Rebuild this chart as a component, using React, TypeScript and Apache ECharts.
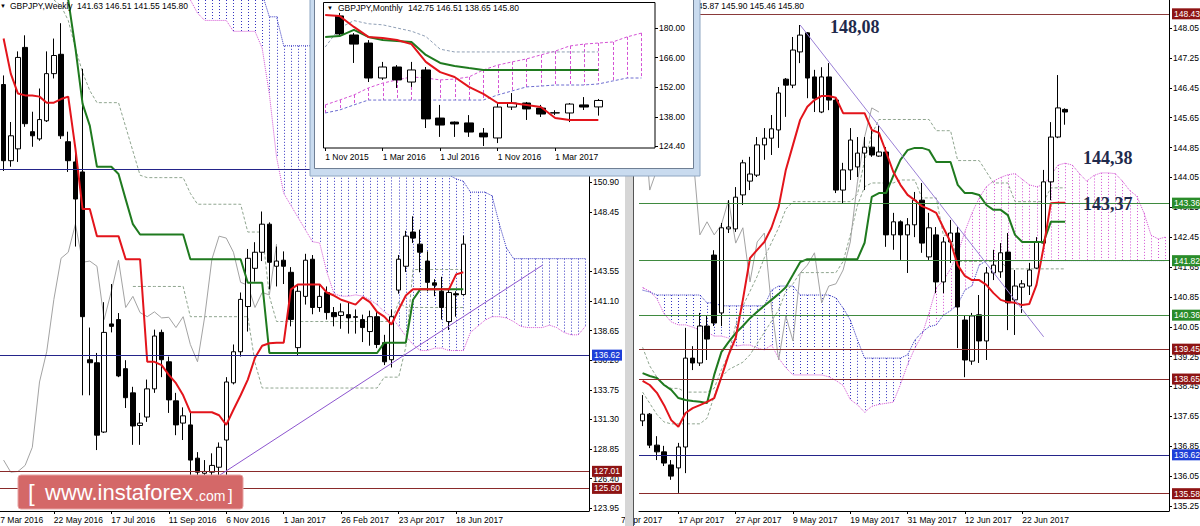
import React, { useEffect, useRef } from 'react';
import * as echarts from 'echarts';

const FONT = "'Liberation Sans', Arial, sans-serif";
const FS = 8.5;

// ================= Weekly panel (left) =================
// [open, high, low, close], weekly candles from 10 Apr 2016 to 25 Jun 2017
const weeklyOHLC = [
  [159.0, 159.75, 151.85, 152.7], [152.7, 155.9, 152.2, 154.76], [153.68, 161.74, 152.6, 161.24],
  [162.07, 163.07, 155.5, 155.76], [155.1, 156.75, 153.85, 154.76], [154.5, 158.67, 154.35, 156.1],
  [156.0, 161.74, 155.9, 159.9], [159.9, 162.8, 159.5, 161.4], [161.5, 164.07, 154.5, 154.76],
  [154.27, 155.1, 151.77, 152.7], [152.6, 153.4, 145.6, 149.53], [151.77, 160.3, 133.3, 139.8],
  [136.24, 138.9, 133.3, 135.99], [135.99, 136.8, 128.77, 130.0], [130.26, 141.0, 130.18, 138.5],
  [139.2, 142.5, 138.5, 139.0], [139.56, 140.1, 134.8, 134.9], [135.5, 136.2, 132.25, 133.1],
  [133.5, 134.0, 129.2, 130.76], [130.8, 131.84, 129.2, 131.0], [131.5, 134.6, 131.1, 133.83],
  [133.83, 138.73, 133.5, 138.2], [138.5, 138.73, 134.8, 136.24], [136.07, 136.5, 131.84, 132.92],
  [132.84, 133.5, 130.0, 130.85], [131.0, 132.3, 129.6, 131.6], [130.85, 131.84, 125.45, 127.94],
  [128.1, 128.6, 125.5, 126.94], [126.85, 127.94, 126.1, 127.0], [126.94, 128.5, 126.3, 127.5],
  [127.35, 129.4, 126.5, 129.0], [129.6, 134.8, 126.5, 134.4], [134.33, 137.5, 134.2, 136.9],
  [136.9, 141.8, 136.5, 141.23], [140.64, 145.4, 138.57, 144.63], [143.8, 145.96, 142.7, 145.13],
  [145.13, 148.5, 144.4, 147.45], [147.45, 147.6, 142.06, 144.3], [143.97, 145.6, 142.3, 144.4],
  [144.47, 145.2, 142.5, 143.97], [143.47, 143.9, 139.0, 139.56], [137.24, 142.5, 136.6, 141.9],
  [141.48, 145.0, 140.8, 144.47], [144.55, 144.9, 140.0, 140.56], [140.56, 142.5, 140.2, 141.48],
  [141.8, 142.3, 139.56, 140.14], [140.14, 140.6, 139.0, 139.8], [139.9, 140.9, 138.8, 140.2],
  [139.97, 141.0, 138.4, 139.7], [139.8, 140.4, 138.4, 139.75], [139.56, 139.97, 137.7, 138.9],
  [138.57, 140.3, 137.4, 139.8], [139.8, 140.3, 137.2, 137.5], [137.65, 138.3, 135.8, 136.07],
  [136.24, 140.4, 135.6, 139.8], [142.0, 144.9, 141.7, 144.55], [143.97, 146.9, 143.5, 146.46],
  [146.8, 148.1, 145.9, 146.3], [145.8, 147.0, 143.47, 145.13], [144.4, 145.2, 141.9, 142.64],
  [142.6, 142.9, 141.5, 142.4], [141.9, 143.1, 139.56, 140.56], [139.4, 142.0, 138.7, 141.8],
  [141.7, 141.9, 139.8, 141.6], [141.63, 146.51, 141.55, 145.8],
];
const weeklyTenkan = [
  162.8, 159.9, 158.25, 158.1, 158.1, 158.0, 157.5,
  157.5, 157.8, 158.0, 153.7, 148.7, 148.7, 146.46, 146.46, 146.46, 146.46,
  144.55, 144.55, 144.55, 136.07, 136.07, 135.8, 134.99, 134.3, 133.3, 131.9,
  131.9, 131.9, 131.9, 131.65, 130.85, 132.1, 133.3, 134.6, 136.4, 137.4,
  137.6, 137.65, 137.65, 142.06, 142.47, 142.47, 142.47, 142.47, 141.8, 141.55,
  141.2, 141.0, 140.8, 141.4, 141.0, 140.2, 139.8, 139.15, 140.4, 141.55,
  142.06, 142.06, 142.06, 142.06, 142.06, 142.06, 143.3, 143.47,
];
const weeklyKijun = [
  168, 168, 168, 168, 168, 168, 168, 168, 168, 166, 162, 157.4, 155.6, 152.2, 152.2, 152.2, 151.6,
  149.5, 147.45, 146.6, 146.6, 146.6, 146.6, 146.6, 146.6, 146.6,
  144.55, 144.55, 144.55, 144.55, 144.55, 144.55, 144.55, 144.55, 142.6, 142.6, 142.6,
  136.8, 136.8, 136.8, 136.8, 136.8, 136.8, 136.8, 136.8, 136.8, 136.8, 136.8, 136.8, 136.8, 136.8, 136.8, 136.8,
  137.65, 137.65, 137.65, 137.65, 141.2, 142.06, 142.06, 142.06, 142.06, 142.06, 142.06, 142.06,
];
const N = null;
// Senkou spans (already shifted 26 weeks ahead), slots from 10 Apr 2016 to 5 Nov 2017
const weeklySpanA = [
  N, N, N, N, N, N, N, N, N, N, N, N, N, N, N, N, N, N, N, N, N, N, N, N, N, N,
  166.0, 164.9, 164.3, 164.3, 164.3, 164.3, 163.4, 163.4, 163.4, 163.4,
  162.0, 158.2, 153.0, 150.0, 149.0, 148.0, 147.0, 146.0, 145.9, 143.5,
  141.7, 141.5, 141.5, 141.6, 141.5, 141.2, 140.8, 140.2, 139.8, 139.0,
  138.2, 137.5, 137.0, 137.0, 137.2, 137.2, 137.0, 137.0, 137.0, 138.5,
  139.0, 139.5, 139.8, 139.8, 139.7, 139.4, 139.0, 138.9, 138.9, 138.9,
  139.1, 138.9, 138.5, 138.3, 138.3, 139.0,
];
const weeklySpanB = [
  N, N, N, N, N, N, N, N, N, N, N, N, N, N, N, N, N, N, N, N, N, N, N, N, N, N,
  170, 170, 170, 170, 170, 170, 170, 170, 170, 170,
  166.5, 164.6, 164.6, 162.2, 162.2, 162.2, 162.2, 162.2, 162.2, 162.2, 162.2, 162.2, 162.2, 162.2, 162.2, 162.2, 162.2, 162.2,
  160, 158, 157, 156, 155, 154, 153, 152, 151.5, 151.2, 151.0, 150.1, 150.1, 150.1, 149.8, 147.5, 145.5,
  144.6, 144.6, 144.6, 144.6, 144.6, 144.6, 144.6, 144.6, 144.6, 144.6, 144.6,
];
const weeklyDash1 = [
  N, N, N, N, N, N, N, 166.0, 165.5, 164.3, 162, 160, 158.5, 157.5, 157.5, 157.5, 157.5,
  155.5, 153.5, 151.5, 151.3, 151.3, 151.3, 151.3, 151.3, 151.3, 150.0,
  149.1, 149.1, 149.1, 149.1, 149.1, 149.1, 149.1, 146.8, 146.8, 146.8, 141.5,
  139.4, 139.4, 139.4, 139.4, 139.4, 139.4, 139.4, 139.4, 139.4, 139.4, 139.4, 139.4, 139.4, 139.4, 139.4, 139.4, 139.4,
  141.0, 140.56, 140.56, 140.56, 140.56, 140.56, 140.56, 140.56, 140.56, 140.56,
];
const weeklyDash2 = [
  N, N, N, N, N, N, N, N, N, N, N, N, N, N, N, N, N, N,
  142.3, 142.3, 142.3, 142.3, 142.3, 142.3, 142.3, 142.3,
  139.8, 139.8, 139.8, 139.8, 139.8, 139.8, 139.8, 139.8, 139.8, 136,
  133.9, 133.9, 133.9, 133.9, 133.9, 133.9, 133.9, 133.9, 133.9, 133.9, 133.9, 133.9, 133.9, 133.9, 133.9, 133.9, 133.9,
  134.8, 134.8, 134.8, 137.3, 143.7, 143.7, 143.7, 143.7, 143.7, 143.7, 143.7, 143.7,
];
const weeklySlots = 82;
const weeklyXLabelIdx = [7, 15, 23, 31, 39, 47, 55, 63];
const weeklyXLabelText = ['22 May 2016', '17 Jul 2016', '11 Sep 2016', '6 Nov 2016', '1 Jan 2017', '26 Feb 2017', '23 Apr 2017', '18 Jun 2017'];
const weeklyYTicks = [123.95, 126.4, 128.85, 131.3, 133.75, 136.2, 138.65, 141.1, 143.55, 148.45, 150.9, 153.35, 155.8, 158.25, 160.7, 163.15, 165.6];
const weeklyLevelValues = [152.0, 136.62, 127.01, 125.6];
const weeklyLevelColors = ['#24248a', '#24248a', '#8a2a2a', '#8a2a2a'];
const weeklyLevelTags = [null, '#1d3fd8', '#8e1414', '#8e1414'];
const weeklyTrend = [[27, 125.5], [75, 144.05]];

// ================= Daily panel (right) =================
const dailyOHLC = [
  [137.53, 138.22, 137.39, 137.71], [137.71, 137.74, 136.8, 136.88], [136.88, 137.12, 136.48, 136.7],
  [136.7, 136.86, 136.32, 136.4], [136.35, 136.48, 135.95, 136.05], [136.27, 136.94, 135.6, 136.83],
  [136.83, 140.02, 136.13, 139.21], [139.21, 139.53, 138.89, 139.08], [139.08, 140.42, 139.0, 140.07],
  [140.07, 140.34, 139.16, 139.72], [141.97, 142.1, 140.07, 140.15], [140.42, 142.83, 140.07, 142.7],
  [142.67, 143.44, 142.56, 142.72], [142.67, 143.79, 142.59, 143.52], [143.58, 144.52, 143.31, 144.44],
  [143.95, 144.6, 143.71, 144.14], [144.11, 145.13, 144.06, 144.92], [144.92, 145.37, 144.52, 145.1],
  [145.1, 145.72, 144.65, 145.35], [145.32, 146.47, 144.84, 146.31], [146.68, 146.71, 145.67, 146.52],
  [146.52, 147.81, 146.44, 147.46], [147.41, 148.13, 147.11, 147.86], [147.92, 147.94, 146.17, 146.71],
  [146.74, 146.93, 145.8, 146.17], [145.8, 147.0, 145.77, 146.74], [146.74, 147.11, 145.85, 146.12],
  [146.12, 146.2, 143.63, 143.71], [143.71, 144.44, 143.36, 144.25], [144.25, 145.37, 143.98, 145.05],
  [144.33, 145.13, 144.06, 144.7], [144.7, 145.13, 143.71, 144.86], [144.86, 145.4, 144.6, 144.65],
  [144.62, 145.45, 144.6, 144.73], [144.73, 144.86, 142.19, 142.51], [142.51, 143.1, 142.11, 142.86],
  [142.86, 142.9, 141.84, 142.51], [142.51, 142.96, 141.49, 142.78], [142.78, 143.66, 142.45, 143.44],
  [143.44, 143.9, 142.03, 142.29], [141.92, 143.1, 141.84, 142.7], [142.51, 142.72, 140.95, 141.25],
  [141.25, 142.45, 140.95, 142.32], [142.32, 142.91, 141.76, 142.56], [142.56, 142.72, 139.48, 140.58],
  [140.23, 140.34, 138.7, 139.16], [139.13, 140.42, 139.03, 140.34], [140.37, 140.9, 139.08, 139.67],
  [139.67, 141.65, 139.16, 141.49], [141.49, 142.11, 141.3, 141.7], [141.52, 142.29, 141.36, 142.03],
  [142.05, 142.56, 139.96, 140.69], [140.77, 141.57, 139.83, 141.14], [141.11, 141.3, 140.42, 141.2],
  [141.14, 141.76, 140.9, 141.57], [141.62, 142.45, 141.6, 142.32], [142.29, 144.25, 142.24, 143.93],
  [143.93, 145.53, 143.44, 145.13], [145.13, 146.79, 145.1, 145.91], [145.87, 145.9, 145.46, 145.8],
];
const dailyTenkan = [
  138.6, 138.49, 138.28, 137.95, 137.55, 137.37, 137.74, 137.87, 137.95, 138.04,
  138.14, 138.7, 139.29, 139.75, 140.77, 141.89, 142.11, 142.32, 142.7, 143.26,
  144.25, 144.92, 145.59, 145.94, 146.12, 146.23, 146.23, 146.18, 145.77, 145.77,
  145.77, 145.77, 145.32, 145.24, 144.73, 144.2, 143.85, 143.58, 143.44, 143.28,
  143.2, 143.1, 142.7, 142.32, 141.7, 141.41, 141.3, 141.3, 141.17, 140.95,
  140.77, 140.71, 140.69, 140.63, 140.66, 141.17, 142.19, 143.36, 143.37, 143.37,
];
const dailyKijun = [
  138.81, 138.73, 138.68, 138.49, 138.36, 138.14, 138.09, 138.06, 138.04, 138.01,
  138.76, 139.37, 139.64, 139.88, 140.07, 140.28, 140.45, 140.61, 140.77, 140.93,
  141.11, 141.44, 141.78, 141.86, 141.86, 141.86, 141.86, 141.86, 141.86, 141.86,
  141.86, 142.3, 143.53, 143.63, 143.63, 144.09, 144.52, 144.78, 144.84, 144.84,
  144.78, 144.46, 144.46, 144.46, 143.85, 143.63, 143.63, 143.58, 143.31, 143.18,
  143.18, 143.04, 142.51, 142.32, 142.32, 142.32, 142.32, 142.86, 142.86, 142.86,
];
const dailySpanA = [
  141.1, 141.0, 140.8, 140.4, 140.18, 140.1, 140.1, 140.04, 139.96, 139.91,
  139.8, 139.8, 139.75, 139.53, 139.56, 139.56, 139.48, 139.43, 139.56, 139.21,
  138.95, 138.76, 138.76, 138.76, 138.76, 138.76, 138.71, 138.61, 138.48, 138.1,
  137.96, 137.76, 137.92, 137.97, 138.0, 138.03, 138.5, 139.04, 139.47, 139.82,
  140.42, 141.09, 141.28, 141.6, 142.0, 142.6, 143.1, 143.5, 143.8, 143.95,
  144.05, 144.12, 144.15, 144.0, 143.85, 143.8, 143.85, 144.1, 144.38, 144.43,
  144.38, 144.15, 143.95, 144.1, 144.17, 144.17, 144.15, 143.95, 143.7, 143.55,
  143.1, 142.5, 142.4, 142.45,
];
const dailySpanB = [
  141.03, 140.98, 140.9, 140.9, 140.9, 140.9, 140.9, 140.9, 140.9, 140.69,
  140.69, 140.61, 140.61, 140.61, 140.61, 140.61, 140.61, 140.61, 141.03, 141.14,
  141.14, 141.14, 140.9, 140.9, 140.9, 140.9, 140.9, 140.82, 140.55, 140.23,
  139.7, 139.21, 139.21, 139.21, 139.21, 139.21, 139.21, 139.3, 139.69, 139.9,
  140.05, 140.1, 140.36, 140.48, 140.65, 141.03, 141.15, 141.7, 141.82, 141.82,
  141.82, 141.82, 141.82, 141.82, 141.82, 141.82, 141.82, 141.82, 141.82, 141.82,
  141.82, 141.82, 141.82, 141.82, 141.82, 141.82, 141.82, 141.82, 141.82, 141.82,
  141.82, 141.82, 141.82, 141.82,
];
const dailyDash1 = [
  139.5, 139.0, 138.7, 138.5, 138.4, 138.4, 138.3, 138.3, 138.3, 138.3,
  138.4, 138.9, 139.3, 140.1, 140.6, 141.0, 141.4, 141.9, 142.3, 142.7,
  143.2, 143.4, 143.4, 143.4, 143.4, 143.4, 143.4, 143.4, 143.4, 143.4,
  143.6, 144.5, 145.2, 145.6, 145.6, 145.6, 145.6, 145.6, 145.6, 145.6,
  145.6, 145.3, 145.3, 145.3, 144.5, 144.5, 144.5, 144.5, 144.2, 143.9,
  143.9, 143.9, 143.4, 143.4, 143.4, 143.4, 143.4, 143.77, 143.77, 143.77,
];
const dailyDash2 = [
  138.3, 138.0, 137.7, 137.5, 137.45, 137.45, 137.45, 137.45, 137.45, 137.6,
  138.2, 138.7, 138.9, 139.0, 139.1, 139.3, 139.6, 139.9, 140.2, 140.5,
  141.0, 141.2, 141.5, 141.5, 141.5, 141.5, 141.5, 141.5, 141.8, 142.5,
  143.3, 143.8, 143.9, 143.9, 143.9, 143.9, 143.98, 143.98, 143.98, 143.5,
  143.5, 143.5, 142.5, 142.5, 141.8, 141.8, 141.8, 141.8, 141.8, 141.8,
  141.8, 141.6, 141.6, 141.6, 141.6, 141.6, 141.6, 141.6, 141.6, 141.6,
];
const dailySlots = 74;
const dailyXLabelIdx = [5, 13, 21, 29, 37, 45, 53];
const dailyXLabelText = ['17 Apr 2017', '27 Apr 2017', '9 May 2017', '19 May 2017', '31 May 2017', '12 Jun 2017', '22 Jun 2017'];
const dailyYTicks = [135.25, 136.05, 136.85, 137.65, 138.45, 139.25, 140.05, 140.85, 141.65, 142.45, 143.25, 144.05, 144.85, 145.65, 146.45, 147.25, 148.05];
const dailyLevelValues = [148.43, 143.36, 141.82, 140.36, 139.45, 138.65, 136.62, 135.58];
const dailyLevelColors = ['#8a3a3a', '#3f8a3f', '#3f8a3f', '#3f8a3f', '#8a2a2a', '#8a2a2a', '#24248a', '#8a2a2a'];
const dailyLevelTags = ['#8e1414', '#2a8c2a', '#2a8c2a', '#2a8c2a', '#8e1414', '#8e1414', '#1d3fd8', '#8e1414'];
const dailyTrend = [[22, 148.13], [56, 139.78]];

// ================= Monthly inset =================
const monthlyOHLC = [
  null, [185.7, 187.1, 176.7, 177.2], [176.7, 177.6, 163.5, 172.4], [172.9, 174.3, 154.5, 156.4],
  [156.4, 164.0, 155.5, 161.6], [161.6, 162.5, 151.7, 155.5], [154.5, 164.0, 152.2, 160.2],
  [160.2, 161.6, 132.8, 137.1], [137.5, 143.7, 128.6, 134.2], [135.6, 135.9, 128.6, 134.7],
  [135.2, 138.9, 128.6, 130.9], [130.4, 132.8, 124.3, 128.6], [128.1, 144.6, 125.7, 142.7],
  [142.7, 149.3, 141.3, 144.6], [144.6, 145.1, 136.6, 141.8], [142.2, 143.7, 138.0, 139.4],
  [139.9, 141.2, 138.9, 140.0], [139.9, 144.6, 135.6, 144.1], [143.7, 147.4, 141.3, 142.7],
  [142.75, 146.51, 138.65, 145.8],
];
const monthlyTenkan = [186.1, 185.7, 180.5, 175.8, 175.3, 174.3, 172.4, 164.0, 159.2, 156.9, 152.2, 148.9, 144.6, 144.6, 143.7, 142.7, 137.5, 136.6, 136.6, 136.6];
const monthlyKijun = [175.8, 176.2, 179.1, 175.8, 174.3, 173.9, 173.4, 167.3, 163.5, 162.1, 161.1, 160.2, 160.2, 160.2, 160.2, 160.2, 160.2, 160.2, 160.2, 160.2];
const monthlySpanA = [143.7, 146.0, 148.4, 151.7, 154.0, 155.5, 156.9, 156.4, 155.5, 155.9, 156.9, 160.2, 162.5, 164.0, 165.4, 167.3, 169.1, 171.5, 172.4, 172.9, 173.4, 175.8, 177.6];
const monthlySpanB = [139.9, 141.3, 143.7, 146.0, 146.0, 146.0, 146.0, 146.0, 146.0, 146.0, 146.0, 146.0, 148.4, 150.3, 152.2, 152.6, 153.1, 153.1, 153.1, 153.6, 155.0, 156.4, 156.4];
const monthlyDash = [171.0, 180.0, 183.5, 182.0, 181.5, 180.0, 178.5, 176.0, 170.0, 168.7, 168.7, 168.7, 168.7, 168.7, 168.7, 168.7, 168.7, 168.7, 168.7, 168.7];
const monthlySlots = 24;
const monthlyXLabelIdx = [0, 4, 8, 12, 16];
const monthlyXLabelText = ['1 Nov 2015', '1 Mar 2016', '1 Jul 2016', '1 Nov 2016', '1 Mar 2017'];
const monthlyYTicks = [124.4, 138.0, 152.0, 166.0, 180.0];

const lastPrice = 145.8;

// ================= helpers =================
const cats = (n: number) => Array.from({ length: n }, (_, i) => String(i));
const closes = (ohlc: any[]) => ohlc.map((d) => (d ? d[3] : null));

function xAxisCfg(gi: number, n: number, idx: number[], txt: string[], z: number, showLine = true) {
  const m = new Map<number, string>(idx.map((k, j) => [k, txt[j]]));
  return {
    type: 'category', gridIndex: gi, data: cats(n), boundaryGap: true, z,
    axisLine: { show: showLine, onZero: false, lineStyle: { color: '#000', width: 1 } },
    axisTick: { show: true, alignWithLabel: true, interval: (i: number) => m.has(i), length: 3, lineStyle: { color: '#000' } },
    axisLabel: {
      show: true, interval: (i: number) => m.has(i), formatter: (_v: string, i: number) => m.get(i) ?? '',
      align: 'left', color: '#000', fontSize: FS, fontFamily: FONT, margin: 4,
    },
    splitLine: { show: false },
  };
}
function yAxisCfg(gi: number, min: number, max: number, ticks: number[], z: number, offset = 0, showLine = true) {
  return {
    type: 'value', gridIndex: gi, position: 'right', min, max, offset, z,
    axisLine: { show: showLine, onZero: false, lineStyle: { color: '#000', width: 1 } },
    axisTick: { show: true, length: 3, customValues: ticks, lineStyle: { color: '#000' } },
    axisLabel: { show: true, customValues: ticks, formatter: (v: number) => v.toFixed(2), color: '#000', fontSize: FS, fontFamily: FONT, margin: 4 },
    splitLine: { show: false },
  };
}
function tagLabel(bg: string, v: number) {
  return {
    show: true, position: 'end', distance: 3, formatter: v.toFixed(2), backgroundColor: bg, color: '#fff',
    padding: [1, 2, 1, 2], fontSize: FS, fontFamily: FONT,
  };
}
function levelData(vals: number[], colors: string[], tags: (string | null)[]) {
  return vals.map((v, k) => ({
    yAxis: v,
    lineStyle: { color: colors[k], width: 1, type: 'solid' },
    label: tags[k] ? tagLabel(tags[k] as string, v) : { show: false },
  }));
}
function priceTag(v: number) {
  return { yAxis: v, lineStyle: { width: 0, opacity: 0 }, label: tagLabel('#000', v) };
}
function trendData(t: number[][], color: string) {
  return [[
    { coord: [String(t[0][0]), t[0][1]], lineStyle: { color, width: 1, type: 'solid' }, label: { show: false } },
    { coord: [String(t[1][0]), t[1][1]] },
  ]];
}
function candles(xi: number, ohlc: any[], barWidth: number, z: number, markData: any[]) {
  return {
    type: 'candlestick', xAxisIndex: xi, yAxisIndex: xi, z, barWidth, silent: true,
    data: ohlc.map((d) => (d ? [d[0], d[3], d[2], d[1]] : ['-', '-', '-', '-'])),
    itemStyle: { color: '#ffffff', color0: '#000000', borderColor: '#000000', borderColor0: '#000000', borderWidth: 1 },
    markLine: { silent: true, symbol: ['none', 'none'], animation: false, data: markData },
  };
}
function line(xi: number, data: any[], color: string, width: number, type: any, z: number) {
  return {
    type: 'line', xAxisIndex: xi, yAxisIndex: xi, data, symbol: 'none', silent: true, z, clip: true,
    connectNulls: false, lineStyle: { color, width, type },
  };
}
function hatch(xi: number, a: any[], b: any[], pink: string, blue: string, dash: number[], z: number) {
  const data: number[][] = [];
  a.forEach((v, i) => {
    if (v != null && b[i] != null) data.push([i, v, b[i]]);
  });
  return {
    type: 'custom', xAxisIndex: xi, yAxisIndex: xi, z, silent: true, data,
    encode: { x: 0, y: [1, 2] },
    renderItem: (params: any, api: any) => {
      const i = api.value(0), va = api.value(1), vb = api.value(2);
      const pa = api.coord([i, va]), pb = api.coord([i, vb]);
      const cs = params.coordSys;
      const y1 = Math.max(cs.y, Math.min(pa[1], pb[1]));
      const y2 = Math.min(cs.y + cs.height, Math.max(pa[1], pb[1]));
      if (!(y2 > y1)) return { type: 'group', children: [] };
      const x = Math.round(pa[0]) + 0.5;
      return {
        type: 'line', shape: { x1: x, y1, x2: x, y2 },
        style: { stroke: va > vb ? pink : blue, lineWidth: 1, lineDash: dash },
      };
    },
  };
}
function txt(x: number, y: number, text: string, size: number, z: number, extra: any = {}) {
  return {
    type: 'text', x, y, z, silent: true,
    style: { text, fill: '#000', fontSize: size, fontFamily: FONT, align: 'left', verticalAlign: 'middle', ...extra },
  };
}

const RED = '#e3141b';
const GREEN = '#1f7a1f';
const GRAY = '#a3a3a3';
const DASH = '#8fa58f';
const PINK = '#d452d4';
const BLUE = '#3434c0';

function buildOption() {
  const wClose = closes(weeklyOHLC);
  const dClose = closes(dailyOHLC);
  const series: any[] = [
    // weekly
    hatch(0, weeklySpanA, weeklySpanB, PINK, BLUE, [1, 2], 1),
    line(0, weeklySpanA, PINK, 1, 'dotted', 2),
    line(0, weeklySpanB, BLUE, 1, 'dotted', 2),
    line(0, weeklyDash1, DASH, 1, [3, 2], 2),
    line(0, weeklyDash2, DASH, 1, [3, 2], 2),
    line(0, wClose.slice(26), GRAY, 1, 'solid', 2),
    candles(0, weeklyOHLC, 5, 3, [
      ...levelData(weeklyLevelValues, weeklyLevelColors, weeklyLevelTags),
      priceTag(lastPrice),
      ...trendData(weeklyTrend, '#8d55cf'),
    ]),
    line(0, weeklyKijun, GREEN, 2, 'solid', 4),
    line(0, weeklyTenkan, RED, 2, 'solid', 4),
    // daily
    hatch(1, dailySpanA, dailySpanB, PINK, BLUE, [1, 2], 1),
    line(1, dailySpanA, PINK, 1, 'dotted', 2),
    line(1, dailySpanB, BLUE, 1, 'dotted', 2),
    line(1, dailyDash1, DASH, 1, [3, 2], 2),
    line(1, dailyDash2, DASH, 1, [3, 2], 2),
    line(1, dClose.slice(26), GRAY, 1, 'solid', 2),
    candles(1, dailyOHLC, 5, 3, [
      ...levelData(dailyLevelValues, dailyLevelColors, dailyLevelTags),
      priceTag(lastPrice),
      ...trendData(dailyTrend, '#9a7fd6'),
    ]),
    line(1, dailyKijun, GREEN, 2, 'solid', 4),
    line(1, dailyTenkan, RED, 2, 'solid', 4),
    // monthly inset
    hatch(2, monthlySpanA, monthlySpanB, PINK, BLUE, [3, 2], 55),
    line(2, monthlySpanA, PINK, 1, [3, 2], 56),
    line(2, monthlySpanB, '#6d6dd0', 1, [3, 2], 56),
    line(2, monthlyDash, '#8f9fb5', 1, [3, 2], 56),
    candles(2, monthlyOHLC, 9, 60, [priceTag(lastPrice)]),
    line(2, monthlyKijun, GREEN, 2, 'solid', 62),
    line(2, monthlyTenkan, RED, 2, 'solid', 62),
  ];

  const serif = "'Liberation Serif', 'Times New Roman', serif";
  const graphic: any[] = [
    // weekly title
    txt(0, 6, '▼', 6, 80),
    txt(10, 6, 'GBPJPY,Weekly', FS, 80),
    txt(77, 6, '141.63 146.51 141.55 145.80', FS, 80),
    // daily header (partly hidden by the inset)
    txt(693, 5.5, '145.87 145.90 145.46 145.80', FS, 10),
    // clipped first date labels
    txt(-4.5, 519.5, '27 Mar 2016', FS, 5),
    txt(621, 519.5, '7 Apr 2017', FS, 5),
    // separator between panels
    { type: 'rect', z: 46, silent: true, shape: { x: 625, y: 0, width: 8, height: 526 }, style: { fill: '#d6d6d6' } },
    { type: 'line', z: 47, silent: true, shape: { x1: 633.5, y1: 0, x2: 633.5, y2: 526 }, style: { stroke: '#555', lineWidth: 1 } },
    // annotations
    txt(830, 27, '148,08', 18, 30, { fill: '#1f2a4c', fontFamily: serif, fontWeight: 'bold' }),
    txt(1083, 158, '144,38', 18, 30, { fill: '#1f2a4c', fontFamily: serif, fontWeight: 'bold' }),
    txt(1083, 204, '143,37', 18, 30, { fill: '#1f2a4c', fontFamily: serif, fontWeight: 'bold' }),
    // watermark
    { type: 'rect', z: 40, silent: true, shape: { x: 18, y: 475, width: 225, height: 34, r: 3 }, style: { fill: '#d46868', stroke: '#e7a3a3', lineWidth: 1 } },
    txt(28, 492, '[', 24, 41, { fill: '#fff' }),
    txt(45, 492, 'www.instaforex', 22, 41, { fill: '#fff' }),
    txt(195, 496, '.com', 14, 41, { fill: '#fff' }),
    txt(228, 495, ']', 17, 41, { fill: '#fff' }),
    // inset window
    { type: 'rect', z: 50, silent: true, shape: { x: 310, y: -6, width: 390, height: 182 }, style: { fill: '#c9dbef', stroke: '#8ea6c2', lineWidth: 1 } },
    { type: 'rect', z: 51, silent: true, shape: { x: 314.5, y: -6, width: 379, height: 174.5 }, style: { fill: '#ffffff', stroke: '#6f7f94', lineWidth: 1 } },
    { type: 'rect', z: 70, silent: true, shape: { x: 323.5, y: 2.5, width: 331.5, height: 145.5 }, style: { fill: 'none', stroke: '#000', lineWidth: 1 } },
    txt(327, 8, '▼', 6, 80),
    txt(338, 8, 'GBPJPY,Monthly', FS, 80),
    txt(408, 8, '142.75 146.51 138.65 145.80', FS, 80),
  ];

  return {
    animation: false,
    backgroundColor: '#ffffff',
    textStyle: { fontFamily: FONT },
    grid: [
      { left: 0, top: 0, width: 589, height: 511, outerBoundsMode: 'none' },
      { left: 639, top: 0, width: 530, height: 511, outerBoundsMode: 'none' },
      { left: 318, top: 3, width: 345, height: 145, outerBoundsMode: 'none', z: 60 },
    ],
    xAxis: [
      xAxisCfg(0, weeklySlots, weeklyXLabelIdx, weeklyXLabelText, 0),
      xAxisCfg(1, dailySlots, dailyXLabelIdx, dailyXLabelText, 0),
      xAxisCfg(2, monthlySlots, monthlyXLabelIdx, monthlyXLabelText, 60, false),
    ],
    yAxis: [
      yAxisCfg(0, 123.73, 165.99, weeklyYTicks, 0),
      yAxisCfg(1, 135.116, 148.8, dailyYTicks, 0),
      yAxisCfg(2, 123.37, 191.8, monthlyYTicks, 60, -8, false),
    ],
    series,
    graphic,
  };
}

export default function App() {
  const ref = useRef<HTMLDivElement>(null);
  useEffect(() => {
    if (!ref.current) return;
    const chart = echarts.init(ref.current, null, { renderer: 'svg' });
    chart.setOption(buildOption() as any);
    return () => chart.dispose();
  }, []);
  return (
    <div
      ref={ref}
      style={{ position: 'fixed', left: 0, top: 0, width: 1200, height: 526, background: '#fff' }}
    />
  );
}
